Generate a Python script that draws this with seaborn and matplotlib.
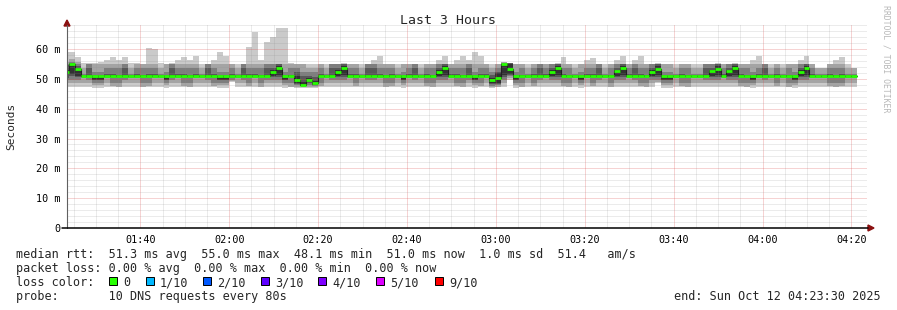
import matplotlib
matplotlib.use("Agg")
import matplotlib.pyplot as plt
import matplotlib.dates as mdates
from matplotlib.lines import Line2D
from matplotlib.patches import Polygon, Rectangle
from matplotlib.ticker import FixedLocator, FixedFormatter, MultipleLocator
import numpy as np
import pandas as pd
import seaborn as sns

# ---------------- data ----------------
first_sample = "2025-10-12 01:22:33"
sample_step = "80s"
view_start = "2025-10-12 01:23:30"
view_end = "2025-10-12 04:23:30"

median_ms = [
    52.4, 55.0, 53.4, 51.0, 51.0, 51.0, 51.0, 51.0, 51.0, 51.0,
    51.0, 51.0, 51.0, 51.0, 51.0, 51.0, 51.0, 51.0, 51.0, 51.0,
    51.0, 51.0, 51.0, 51.0, 51.0, 51.0, 51.0, 51.0, 51.0, 51.0,
    51.0, 51.0, 51.0, 51.0, 51.0, 52.4, 53.5, 51.0, 51.0, 49.6,
    48.1, 49.5, 48.5, 51.0, 51.0, 51.0, 52.3, 53.5, 51.0, 51.0,
    51.0, 51.0, 51.0, 51.0, 51.0, 51.0, 51.0, 51.0, 51.0, 51.0,
    51.0, 51.0, 51.0, 52.2, 53.5, 51.0, 51.0, 51.0, 51.0, 51.0,
    51.0, 51.0, 49.5, 50.2, 55.0, 53.4, 51.0, 51.0, 51.0, 51.0,
    51.0, 51.0, 52.4, 53.5, 51.0, 51.0, 51.0, 51.0, 51.0, 51.0,
    51.0, 51.0, 51.0, 52.5, 53.5, 51.0, 51.0, 51.0, 51.0, 52.4,
    53.4, 51.0, 51.0, 51.0, 51.0, 51.0, 51.0, 51.0, 51.0, 52.5,
    53.4, 51.0, 52.5, 53.5, 51.0, 51.0, 51.0, 51.0, 51.0, 51.0,
    51.0, 51.0, 51.0, 51.0, 52.4, 53.5, 51.0, 51.0, 51.0, 51.0,
    51.0, 51.0, 51.0, 51.0,
]

# the 10 sorted ping times of every round (ping01 = fastest ... ping10 = slowest)
ping01_ms = [
    47.2, 47.2, 47.2, 47.2, 47.2, 46.8, 46.8, 47.2, 47.2, 47.2,
    47.2, 47.2, 47.2, 47.2, 47.2, 47.2, 47.2, 46.8, 47.2, 47.2,
    47.2, 47.2, 47.2, 47.2, 47.2, 47.2, 46.8, 46.8, 49.0, 47.2,
    47.2, 47.2, 47.2, 47.2, 47.2, 47.2, 47.2, 46.8, 47.2, 46.8,
    46.8, 46.8, 46.8, 47.2, 47.2, 47.2, 47.2, 47.2, 47.2, 47.2,
    47.2, 47.2, 47.2, 47.2, 47.2, 47.2, 47.2, 46.8, 47.2, 47.2,
    47.2, 47.2, 47.2, 47.2, 47.2, 47.2, 47.2, 47.2, 47.2, 46.8,
    47.2, 47.2, 46.8, 47.2, 47.2, 49.6, 46.8, 47.2, 47.2, 47.2,
    47.2, 47.2, 47.2, 47.2, 47.2, 47.2, 47.2, 46.8, 47.2, 47.2,
    47.2, 47.2, 47.2, 47.2, 47.2, 47.2, 47.2, 47.2, 47.2, 47.2,
    48.5, 46.8, 46.8, 47.2, 47.2, 47.2, 47.2, 47.2, 47.2, 47.2,
    47.2, 47.2, 47.2, 47.2, 47.2, 47.2, 46.8, 47.2, 47.2, 47.2,
    47.2, 47.2, 47.2, 46.8, 47.2, 47.2, 47.2, 47.2, 47.2, 47.2,
    47.2, 47.2, 47.2, 47.2,
]
ping02_ms = [
    48.5, 48.5, 48.5, 48.5, 48.5, 47.9, 47.9, 48.5, 47.6, 47.2,
    48.5, 48.5, 48.5, 47.2, 47.6, 48.5, 48.5, 47.9, 48.5, 48.5,
    47.6, 47.2, 48.5, 48.5, 48.5, 47.6, 47.9, 47.9, 49.3, 48.5,
    48.5, 47.6, 48.5, 47.2, 48.5, 48.5, 48.5, 47.9, 47.2, 47.2,
    47.2, 47.2, 47.2, 47.6, 48.5, 48.5, 48.5, 48.5, 48.5, 47.6,
    48.5, 48.5, 48.5, 48.5, 47.2, 47.6, 48.5, 47.9, 48.5, 48.5,
    48.5, 47.6, 47.2, 48.5, 48.5, 48.5, 47.6, 47.2, 48.5, 47.9,
    47.6, 48.5, 47.2, 47.2, 48.5, 50.3, 47.9, 47.2, 48.5, 47.6,
    48.5, 48.5, 48.5, 48.5, 47.6, 47.2, 48.5, 47.9, 48.5, 47.6,
    48.5, 48.5, 47.2, 48.5, 48.5, 48.5, 48.5, 47.6, 47.2, 48.5,
    49.0, 47.9, 47.9, 48.5, 47.6, 47.2, 48.5, 48.5, 48.5, 48.5,
    48.5, 48.5, 48.5, 48.5, 47.6, 47.2, 47.9, 48.5, 48.5, 48.5,
    47.6, 48.5, 47.2, 47.9, 48.5, 48.5, 48.5, 48.5, 48.5, 47.6,
    47.2, 47.6, 48.5, 48.5,
]
ping03_ms = [
    49.6, 49.6, 49.6, 50.3, 49.6, 48.5, 48.5, 50.3, 48.5, 48.5,
    49.6, 50.3, 50.3, 48.5, 48.5, 50.3, 50.3, 48.5, 49.6, 50.3,
    48.5, 48.5, 50.3, 50.3, 49.6, 48.5, 48.5, 48.5, 49.6, 50.3,
    49.6, 48.5, 50.3, 48.5, 49.6, 49.6, 49.6, 48.5, 48.5, 47.9,
    47.6, 47.9, 47.6, 48.5, 50.3, 49.6, 49.6, 49.6, 50.3, 48.5,
    50.3, 49.6, 49.6, 50.3, 48.5, 48.5, 50.3, 48.5, 50.3, 49.6,
    50.3, 48.5, 48.5, 49.6, 49.6, 50.3, 48.5, 48.5, 49.6, 48.5,
    48.5, 50.3, 47.6, 47.9, 49.6, 51.0, 48.5, 48.5, 50.3, 48.5,
    49.6, 50.3, 49.6, 49.6, 48.5, 48.5, 50.3, 48.5, 50.3, 48.5,
    49.6, 50.3, 48.5, 49.6, 49.6, 50.3, 49.6, 48.5, 48.5, 49.6,
    49.6, 48.5, 48.5, 50.3, 48.5, 48.5, 50.3, 50.3, 49.6, 49.6,
    49.6, 50.3, 49.6, 49.6, 48.5, 48.5, 48.5, 50.3, 49.6, 50.3,
    48.5, 50.3, 48.5, 48.5, 49.6, 49.6, 50.3, 50.3, 50.3, 48.5,
    48.5, 48.5, 50.3, 50.3,
]
ping04_ms = [
    50.4, 50.9, 50.6, 50.7, 50.7, 49.6, 49.6, 50.7, 50.6, 50.6,
    50.7, 50.7, 50.7, 50.6, 50.6, 50.7, 50.7, 49.6, 50.7, 50.7,
    50.6, 50.6, 50.7, 50.7, 50.7, 50.6, 49.6, 49.6, 50.4, 50.7,
    50.7, 50.6, 50.7, 50.6, 50.7, 50.6, 50.6, 49.6, 50.6, 48.3,
    47.9, 48.5, 47.9, 50.6, 50.7, 50.7, 50.6, 50.6, 50.7, 50.6,
    50.7, 50.7, 50.7, 50.7, 50.6, 50.6, 50.7, 49.6, 50.7, 50.7,
    50.7, 50.6, 50.6, 50.6, 50.6, 50.7, 50.6, 50.6, 50.7, 49.6,
    50.6, 50.7, 48.3, 48.3, 50.6, 51.3, 49.6, 50.6, 50.7, 50.6,
    50.7, 50.7, 50.6, 50.6, 50.6, 50.6, 50.7, 49.6, 50.7, 50.6,
    50.7, 50.7, 50.6, 50.6, 50.6, 50.7, 50.7, 50.6, 50.6, 50.6,
    50.6, 49.6, 49.6, 50.7, 50.6, 50.6, 50.7, 50.7, 50.7, 50.6,
    50.6, 50.7, 50.6, 50.6, 50.6, 50.6, 49.6, 50.7, 50.7, 50.7,
    50.6, 50.7, 50.6, 49.6, 50.6, 50.6, 50.7, 50.7, 50.7, 50.6,
    50.6, 50.6, 50.7, 50.7,
]
ping05_ms = [
    51.5, 51.5, 51.0, 50.9, 50.9, 49.6, 49.6, 50.9, 50.9, 50.9,
    50.9, 50.9, 50.9, 50.9, 50.9, 50.9, 50.9, 49.6, 50.9, 50.9,
    50.9, 50.9, 50.9, 50.9, 50.9, 50.9, 49.6, 49.6, 50.6, 50.9,
    50.9, 50.9, 50.9, 50.9, 50.9, 51.0, 51.2, 49.6, 50.9, 48.5,
    47.9, 48.9, 48.0, 50.9, 50.9, 50.9, 51.0, 51.2, 50.9, 50.9,
    50.9, 50.9, 50.9, 50.9, 50.9, 50.9, 50.9, 49.6, 50.9, 50.9,
    50.9, 50.9, 50.9, 51.0, 51.2, 50.9, 50.9, 50.9, 50.9, 49.6,
    50.9, 50.9, 48.6, 48.6, 51.3, 51.6, 49.6, 50.9, 50.9, 50.9,
    50.9, 50.9, 51.0, 51.2, 50.9, 50.9, 50.9, 49.6, 50.9, 50.9,
    50.9, 50.9, 50.9, 51.0, 51.2, 50.9, 50.9, 50.9, 50.9, 51.0,
    51.2, 49.6, 49.6, 50.9, 50.9, 50.9, 50.9, 50.9, 50.9, 51.0,
    51.2, 50.9, 51.0, 51.2, 50.9, 50.9, 49.6, 50.9, 50.9, 50.9,
    50.9, 50.9, 50.9, 49.6, 51.0, 51.2, 50.9, 50.9, 50.9, 50.9,
    50.9, 50.9, 50.9, 50.9,
]
ping06_ms = [
    53.0, 55.0, 53.6, 51.1, 51.3, 51.0, 51.0, 51.2, 51.2, 51.2,
    51.3, 51.1, 51.2, 51.2, 51.2, 51.2, 51.1, 51.0, 51.3, 51.2,
    51.2, 51.2, 51.2, 51.1, 51.3, 51.2, 51.0, 51.0, 51.2, 51.1,
    51.3, 51.2, 51.2, 51.2, 51.3, 53.0, 54.2, 51.0, 51.2, 51.0,
    49.0, 50.3, 49.3, 51.2, 51.1, 51.3, 53.0, 54.2, 51.2, 51.2,
    51.1, 51.3, 51.3, 51.2, 51.2, 51.2, 51.1, 51.0, 51.2, 51.3,
    51.1, 51.2, 51.2, 53.0, 54.2, 51.2, 51.2, 51.2, 51.3, 51.0,
    51.2, 51.2, 50.4, 51.8, 55.0, 55.0, 51.0, 51.2, 51.1, 51.2,
    51.3, 51.2, 53.0, 54.2, 51.2, 51.2, 51.1, 51.0, 51.2, 51.2,
    51.3, 51.1, 51.2, 53.0, 54.2, 51.2, 51.3, 51.2, 51.2, 53.0,
    54.2, 51.0, 51.0, 51.1, 51.2, 51.2, 51.1, 51.1, 51.3, 53.0,
    54.2, 51.2, 53.0, 54.2, 51.2, 51.2, 51.0, 51.2, 51.3, 51.1,
    51.2, 51.1, 51.2, 51.0, 53.0, 54.2, 51.2, 51.1, 51.1, 51.2,
    51.2, 51.2, 51.1, 51.1,
]
ping07_ms = [
    54.5, 55.3, 54.2, 51.3, 53.6, 51.3, 51.3, 51.5, 51.5, 51.4,
    53.6, 51.3, 51.5, 51.4, 51.5, 51.5, 51.3, 51.3, 53.6, 51.5,
    51.5, 51.4, 51.5, 51.3, 53.6, 51.5, 51.3, 51.3, 51.5, 51.3,
    53.6, 51.5, 51.5, 51.4, 53.6, 53.6, 55.0, 51.3, 51.4, 52.3,
    51.0, 51.0, 50.6, 51.5, 51.3, 53.6, 53.6, 55.0, 51.5, 51.5,
    51.3, 53.6, 53.6, 51.5, 51.4, 51.5, 51.3, 51.3, 51.5, 53.6,
    51.3, 51.5, 51.4, 53.6, 55.0, 51.5, 51.5, 51.4, 53.6, 51.3,
    51.5, 51.5, 51.3, 52.3, 55.0, 55.2, 51.3, 51.4, 51.3, 51.5,
    53.6, 51.5, 53.6, 55.0, 51.5, 51.4, 51.3, 51.3, 51.5, 51.5,
    53.6, 51.3, 51.4, 53.6, 55.0, 51.5, 53.6, 51.5, 51.4, 53.6,
    55.0, 51.3, 51.3, 51.3, 51.5, 51.4, 51.3, 51.3, 53.6, 53.6,
    55.0, 51.5, 53.6, 55.0, 51.5, 51.4, 51.3, 51.5, 53.6, 51.3,
    51.5, 51.3, 51.4, 51.3, 53.6, 55.0, 51.5, 51.3, 51.3, 51.5,
    51.4, 51.5, 51.3, 51.3,
]
ping08_ms = [
    55.0, 55.6, 55.0, 51.7, 55.0, 52.3, 52.3, 53.6, 53.6, 53.6,
    55.0, 51.7, 53.6, 53.6, 53.6, 53.6, 51.7, 52.3, 55.0, 53.6,
    53.6, 53.6, 53.6, 51.7, 55.0, 53.6, 52.3, 52.3, 53.6, 51.7,
    55.0, 53.6, 53.6, 53.6, 55.0, 55.0, 55.0, 52.3, 53.6, 53.6,
    52.3, 52.3, 52.3, 53.6, 51.7, 55.0, 55.0, 55.0, 53.6, 53.6,
    51.7, 55.0, 55.0, 53.6, 53.6, 53.6, 51.7, 52.3, 53.6, 55.0,
    51.7, 53.6, 53.6, 55.0, 55.0, 53.6, 53.6, 53.6, 55.0, 52.3,
    53.6, 53.6, 52.3, 53.6, 55.3, 55.2, 52.3, 53.6, 51.7, 53.6,
    55.0, 53.6, 55.0, 55.0, 53.6, 53.6, 51.7, 52.3, 53.6, 53.6,
    55.0, 51.7, 53.6, 55.0, 55.0, 53.6, 55.0, 53.6, 53.6, 55.0,
    55.0, 52.3, 52.3, 51.7, 53.6, 53.6, 51.7, 51.7, 55.0, 55.0,
    55.0, 53.6, 55.0, 55.0, 53.6, 53.6, 52.3, 53.6, 55.0, 51.7,
    53.6, 51.7, 53.6, 52.3, 55.0, 55.0, 53.6, 51.7, 51.7, 53.6,
    53.6, 53.6, 51.7, 51.7,
]
ping09_ms = [
    55.5, 56.5, 55.6, 53.6, 55.0, 55.0, 55.0, 55.0, 55.0, 55.0,
    55.0, 53.6, 55.0, 55.0, 55.0, 55.0, 53.6, 55.0, 55.0, 55.0,
    55.0, 55.0, 55.0, 53.6, 55.0, 55.0, 55.0, 55.0, 55.0, 53.6,
    55.0, 55.0, 55.0, 55.0, 55.0, 55.0, 55.0, 55.0, 55.0, 55.0,
    55.0, 53.6, 53.6, 55.0, 53.6, 55.0, 55.0, 55.0, 55.0, 55.0,
    53.6, 55.0, 55.0, 55.0, 55.0, 55.0, 53.6, 55.0, 55.0, 55.0,
    53.6, 55.0, 55.0, 55.0, 55.0, 55.0, 55.0, 55.0, 55.0, 55.0,
    55.0, 55.0, 53.6, 55.0, 55.6, 55.2, 55.0, 55.0, 53.6, 55.0,
    55.0, 55.0, 55.0, 55.0, 55.0, 55.0, 53.6, 55.0, 55.0, 55.0,
    55.0, 53.6, 55.0, 55.0, 55.0, 55.0, 55.0, 55.0, 55.0, 55.0,
    55.0, 55.0, 55.0, 53.6, 55.0, 55.0, 53.6, 53.6, 55.0, 55.0,
    55.0, 55.0, 55.0, 55.0, 55.0, 55.0, 55.0, 55.0, 55.0, 53.6,
    55.0, 53.6, 55.0, 55.0, 55.0, 55.0, 55.0, 53.6, 53.6, 55.0,
    55.0, 55.0, 53.6, 53.6,
]
ping10_ms = [
    59.1, 59.1, 57.4, 55.2, 55.2, 55.2, 55.8, 56.3, 57.4, 56.3,
    57.4, 55.2, 55.2, 55.0, 60.2, 60.0, 55.2, 55.0, 55.2, 56.3,
    57.4, 56.3, 57.6, 55.0, 55.0, 56.3, 59.1, 57.8, 55.0, 55.0,
    55.0, 60.7, 65.6, 56.3, 62.2, 64.1, 67.1, 67.1, 55.2, 55.0,
    55.0, 55.0, 55.0, 55.0, 55.0, 55.0, 55.0, 55.2, 55.0, 55.0,
    55.0, 55.0, 56.3, 57.8, 55.0, 55.0, 55.0, 55.0, 55.0, 55.0,
    55.0, 55.0, 55.0, 56.3, 57.8, 55.0, 56.3, 57.8, 56.3, 59.1,
    57.8, 55.0, 55.0, 55.0, 55.6, 55.2, 55.0, 55.0, 55.0, 55.0,
    55.0, 55.0, 55.0, 55.2, 57.4, 55.0, 55.0, 55.0, 56.3, 57.0,
    55.0, 55.0, 55.0, 56.3, 57.8, 55.0, 56.3, 57.8, 55.0, 55.0,
    55.2, 55.0, 55.0, 55.0, 55.0, 55.0, 55.0, 55.0, 55.0, 55.0,
    55.2, 55.0, 55.0, 55.2, 55.0, 55.0, 56.3, 57.8, 55.0, 55.0,
    55.0, 55.0, 55.0, 55.0, 56.3, 57.8, 55.0, 53.6, 53.6, 55.0,
    56.3, 57.4, 55.0, 53.6,
]

y_ticks_ms = [0, 10, 20, 30, 40, 50, 60]
y_tick_labels = ["0", "10 m", "20 m", "30 m", "40 m", "50 m", "60 m"]
y_max_ms = 68.05

title_text = "Last 3 Hours"
y_label_text = "Seconds"
side_text = "RRDTOOL / TOBI OETIKER"
legend_line1 = "median rtt:  51.3 ms avg  55.0 ms max  48.1 ms min  51.0 ms now  1.0 ms sd  51.4   am/s"
legend_line2 = "packet loss: 0.00 % avg  0.00 % max  0.00 % min  0.00 % now"
legend_line3 = "loss color:"
legend_line4 = "probe:       10 DNS requests every 80s"
end_text = "end: Sun Oct 12 04:23:30 2025"
loss_labels = ["0", "1/10", "2/10", "3/10", "4/10", "5/10", "9/10"]
loss_colors = ["#26ff00", "#00b8ff", "#0059ff", "#5e00ff", "#7e00ff", "#dd00ff", "#ff0000"]
smoke_colors = ["#cacaca", "#a4a4a4", "#7e7e7e", "#585858", "#323232"]

# ---------------- figure ----------------
sns.set_style("white")
plt.rcParams["font.family"] = ["DejaVu Sans Mono"]

W, H = 897, 310
def fx(x):
    return x / W
def fy(y):
    return 1 - y / H

fig = plt.figure(figsize=(W / 100, H / 100), dpi=100, facecolor="white")
ax = fig.add_axes([fx(67), fy(228), 800 / W, 203 / H])
ax.set_facecolor("white")

n = len(median_ms)
edges = pd.date_range(first_sample, periods=n + 1, freq=sample_step)
xe = mdates.date2num(edges.to_pydatetime())

pings = [ping01_ms, ping02_ms, ping03_ms, ping04_ms, ping05_ms,
         ping06_ms, ping07_ms, ping08_ms, ping09_ms, ping10_ms]
for i in range(5):
    lo = np.append(pings[i], pings[i][-1])
    hi = np.append(pings[9 - i], pings[9 - i][-1])
    ax.fill_between(xe, lo, hi, step="post", color=smoke_colors[i],
                    lw=0, zorder=1, antialiased=False)

df = pd.DataFrame({"t": xe, "median": np.append(median_ms, median_ms[-1])})
sns.lineplot(data=df, x="t", y="median", drawstyle="steps-post",
             color="#202020", lw=0.8, ax=ax, zorder=3)
ax.hlines(median_ms, xe[:-1], xe[1:], colors=loss_colors[0], lw=2.0, zorder=4)

ax.set_xlim(mdates.date2num(pd.Timestamp(view_start).to_pydatetime()),
            mdates.date2num(pd.Timestamp(view_end).to_pydatetime()))
ax.set_ylim(0, y_max_ms)
ax.set_xlabel("")
ax.set_ylabel("")

ax.xaxis.set_major_locator(mdates.MinuteLocator(byminute=[0, 20, 40]))
ax.xaxis.set_minor_locator(mdates.MinuteLocator(byminute=list(range(0, 60, 5))))
ax.xaxis.set_major_formatter(mdates.DateFormatter("%H:%M"))
ax.yaxis.set_major_locator(FixedLocator(y_ticks_ms))
ax.yaxis.set_major_formatter(FixedFormatter(y_tick_labels))
ax.yaxis.set_minor_locator(MultipleLocator(2))

ax.set_axisbelow(False)
ax.grid(which="minor", color="#8f8f8f", alpha=0.35, lw=0.72, ls=(0, (1, 1)))
ax.grid(which="major", color="#de5050", alpha=0.5, lw=0.72, ls=(0, (1, 1)))
ax.tick_params(axis="both", which="both", length=0, labelsize=7.3, colors="#000000")
ax.tick_params(axis="y", pad=5.0)
ax.tick_params(axis="x", pad=5.0)
for s in ax.spines.values():
    s.set_visible(False)

# axis lines and arrows
fig.add_artist(Line2D([fx(67), fx(67)], [fy(228), fy(25)], color="#606060", lw=0.8))
fig.add_artist(Line2D([fx(62), fx(868)], [fy(228), fy(228)], color="#000000", lw=1.1))
fig.add_artist(Polygon([[fx(67), fy(20)], [fx(64), fy(26)], [fx(70), fy(26)]],
                       closed=True, color="#8b1010", transform=fig.transFigure))
fig.add_artist(Polygon([[fx(874), fy(228)], [fx(868), fy(225)], [fx(868), fy(231)]],
                       closed=True, color="#8b1010", transform=fig.transFigure))

# texts
fig.text(fx(448), fy(24), title_text, ha="center", va="baseline", fontsize=9.5)
fig.text(fx(11), fy(126), y_label_text, ha="center", va="center", rotation=90, fontsize=8)
fig.text(fx(886), fy(59), side_text, ha="center", va="center", rotation=270,
         fontsize=5.9, color="#b8b8b8")

fs = 8.5
fig.text(fx(16), fy(258.3), legend_line1, ha="left", va="baseline", fontsize=fs)
fig.text(fx(16), fy(272.3), legend_line2, ha="left", va="baseline", fontsize=fs)
fig.text(fx(16), fy(286.3), legend_line3, ha="left", va="baseline", fontsize=fs)
fig.text(fx(16), fy(300.3), legend_line4, ha="left", va="baseline", fontsize=fs)
fig.text(fx(881), fy(300.3), end_text, ha="right", va="baseline", fontsize=fs)

box_left = [109, 146, 203, 261, 318, 376, 435]
for bx, lab, col in zip(box_left, loss_labels, loss_colors):
    fig.add_artist(Rectangle((fx(bx), fy(285)), 8 / W, 8 / H, facecolor=col,
                             edgecolor="#000000", lw=0.7, transform=fig.transFigure))
    fig.text(fx(bx + 14), fy(286.3), lab, ha="left", va="baseline", fontsize=fs)

fig.savefig("out.png", dpi=100, facecolor="white")
